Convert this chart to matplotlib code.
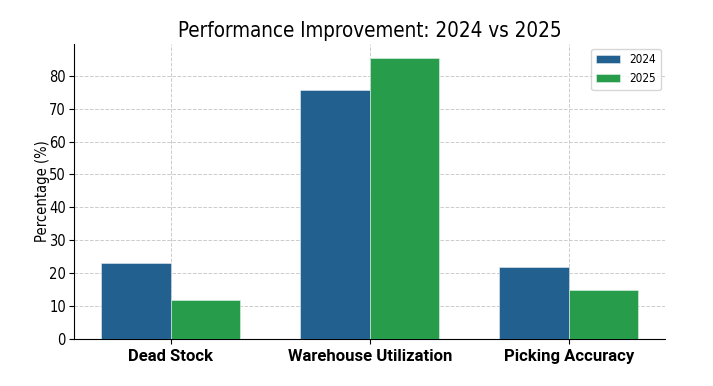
import matplotlib
matplotlib.use("Agg")
import matplotlib.pyplot as plt
import numpy as np

categories = ["Dead Stock", "Warehouse Utilization", "Picking Accuracy"]
values_2024 = [23.2, 75.6, 21.9]
values_2025 = [11.7, 85.4, 14.8]
series_labels = ["2024", "2025"]

plt.rcParams["font.family"] = ["DejaVu Sans"]
plt.rcParams["font.stretch"] = "condensed"

fig = plt.figure(figsize=(7.13, 3.86), dpi=100)
ax = fig.add_axes([0.104, 0.122, 0.829, 0.764])

x = np.arange(len(categories))
w = 0.35
ax.bar(x - w/2, values_2024, w, label=series_labels[0], color="#22618f",
       edgecolor="#e8eef3", linewidth=0.4, zorder=3)
ax.bar(x + w/2, values_2025, w, label=series_labels[1], color="#279c4b",
       edgecolor="#e6f2ea", linewidth=0.4, zorder=3)

ax.set_title("Performance Improvement: 2024 vs 2025", fontsize=14.8, pad=5)
ax.set_ylabel("Percentage (%)", fontsize=10.5, labelpad=-1)
ax.set_xticks(x)
ax.set_xticklabels(categories, fontsize=12, fontweight="bold", family="Roboto",
                   fontstretch="normal")
ax.tick_params(axis="y", labelsize=10.5, pad=2.5)
ax.grid(True, linestyle="--", color="#cccccc", linewidth=0.7, zorder=0)
ax.spines["top"].set_visible(False)
ax.spines["right"].set_visible(False)
ax.legend(loc="upper right", fontsize=8.5, borderaxespad=0.4)

fig.savefig("out.png", dpi=100)
